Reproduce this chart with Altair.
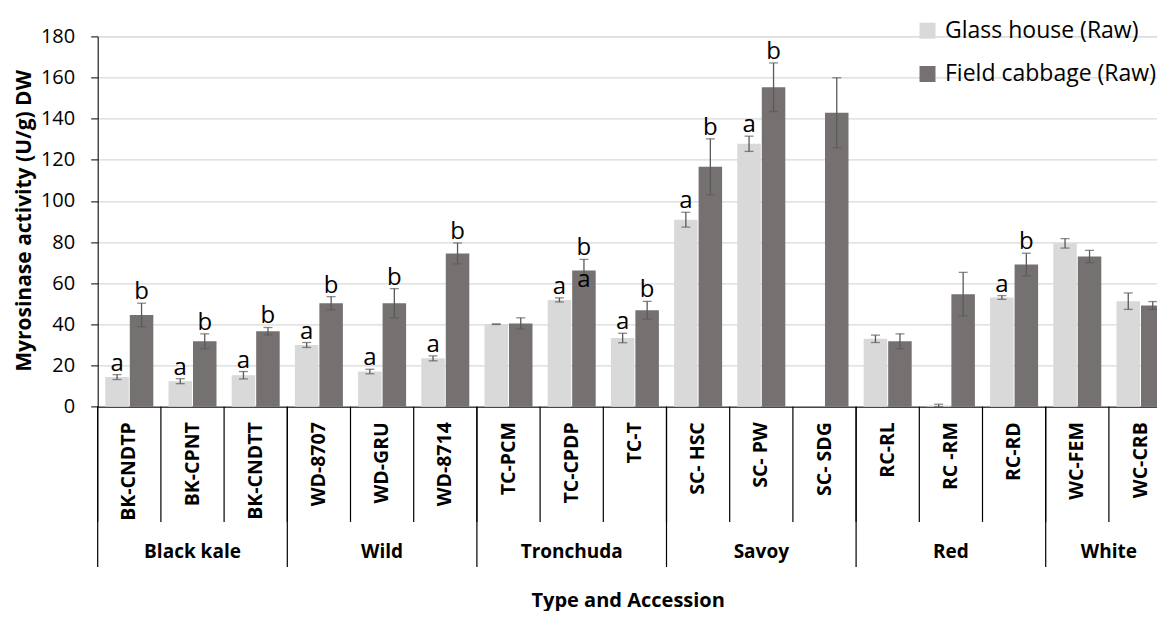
import altair as alt
import pandas as pd

# ---------------- data ----------------
accessions = ["BK-CNDTP", "BK-CPNT", "BK-CNDTT", "WD-8707", "WD-GRU", "WD-8714",
              "TC-PCM", "TC-CPDP", "TC-T", "SC- HSC", "SC- PW", "SC- SDG",
              "RC-RL", "RC -RM", "RC-RD", "WC-FEM", "WC-CRB"]
groups = ["Black kale"] * 3 + ["Wild"] * 3 + ["Tronchuda"] * 3 + ["Savoy"] * 3 + ["Red"] * 3 + ["White"] * 2
group_order = ["Black kale", "Wild", "Tronchuda", "Savoy", "Red", "White"]
series = ["Glass house (Raw)", "Field cabbage (Raw)"]

gh_mean = [14.4, 12.4, 15.3, 30.0, 17.1, 23.5, 40.1, 51.9, 33.4, 90.9, 127.8, None, 33.0, 0.6, 53.1, 79.4, 51.3]
gh_err = [1.2, 1.2, 1.8, 1.2, 1.1, 1.2, 0.15, 1.0, 2.3, 3.6, 3.7, None, 1.8, 0.6, 0.9, 2.3, 4.0]
fc_mean = [44.6, 31.8, 36.7, 50.3, 50.3, 74.5, 40.5, 66.2, 46.9, 116.6, 155.3, 142.9, 31.8, 54.7, 69.1, 73.0, 49.2]
fc_err = [5.7, 3.6, 1.8, 3.2, 7.1, 5.1, 2.7, 5.4, 4.3, 13.6, 11.8, 17.0, 3.6, 10.6, 5.5, 3.0, 1.9]
gh_letters = ["a", "a", "a", "a", "a", "a", "", "a", "a", "a", "a", "", "", "", "a", "", ""]
fc_letters = ["b", "b", "b", "b", "b", "b", "", "b", "b", "b", "b", "", "", "", "b", "", ""]
gh_letters_inner = [""] * 17
fc_letters_inner = ["", "", "", "", "", "", "", "a", "", "", "", "", "", "", "", "", ""]

y_ticks = [0, 20, 40, 60, 80, 100, 120, 140, 160, 180]

# ---------------- tables ----------------
rows = []
for s, means, errs, lets, inner in [
    (series[0], gh_mean, gh_err, gh_letters, gh_letters_inner),
    (series[1], fc_mean, fc_err, fc_letters, fc_letters_inner),
]:
    for a, g, m, e, l, li in zip(accessions, groups, means, errs, lets, inner):
        rows.append({
            "acc": a, "group": g, "series": s, "mean": m, "err": e,
            "lo": None if (m is None or e is None) else m - e,
            "hi": None if (m is None or e is None) else m + e,
            "letter": l, "inner": li,
        })
df = pd.DataFrame(rows)

div_rows = []
seen = set()
for a, g in zip(accessions, groups):
    div_rows.append({"acc": a, "start": g not in seen})
    seen.add(g)
df_div = pd.DataFrame(div_rows)

odd_rows, even_rows = [], []
for g in group_order:
    members = [a for a, gg in zip(accessions, groups) if gg == g]
    n = len(members)
    if n % 2 == 1:
        odd_rows.append({"group": g, "acc": members[n // 2]})
    else:
        even_rows.append({"group": g, "acc": members[n // 2]})
df_godd = pd.DataFrame(odd_rows)
df_geven = pd.DataFrame(even_rows)

# ---------------- styling ----------------
VIEW_W = 1059.3       # visible part of the plot (page is 1165 wide)
RANGE_W = 1074.4      # full band range (last category runs past the page edge)
PLOT_H = 370.3
FONT = "Open Sans"
LIGHT = "#d9d9d9"
DARK = "#767171"
ERR = "#5a5a5a"

y_scale = alt.Scale(domain=[0, 180], nice=False, zero=True)
x_scale = alt.Scale(paddingInner=0, paddingOuter=0, range=[0, RANGE_W])
xo = alt.XOffset("series:N", sort=series,
                 scale=alt.Scale(domain=series, paddingInner=0.04, paddingOuter=0.31))

x_axis = alt.Axis(
    title="Type and Accession", titleFont=FONT, titleFontSize=20, titleFontWeight="bold",
    titleColor="black", titleX=530, titleY=199.3, titleBaseline="alphabetic",
    labelAngle=-90, labelAlign="right", labelBaseline="middle", labelPadding=15,
    labelFont=FONT, labelFontSize=19.5, labelFontWeight="bold", labelColor="black",
    ticks=False, domain=True, domainColor="black", domainWidth=1, grid=False,
    labelLimit=300,
)
y_axis = alt.Axis(
    title="Myrosinase activity (U/g) DW", titleFont=FONT, titleFontSize=21,
    titleFontWeight="bold", titleColor="black", titleX=-67, titleY=184,
    titleBaseline="alphabetic", titleAngle=270,
    values=y_ticks, labelFont=FONT, labelFontSize=20, labelColor="black", labelPadding=16,
    tickSize=7, tickColor="black", domainColor="black", domainWidth=1,
    grid=True, gridColor="#d9d9d9", gridWidth=1.3,
)


def xenc(bp=None):
    if bp is None:
        return alt.X("acc:N", sort=accessions, scale=x_scale, axis=x_axis, title="Type and Accession")
    return alt.X("acc:N", sort=accessions, scale=x_scale, axis=x_axis, title="Type and Accession",
                 bandPosition=bp)


def yenc(field):
    return alt.Y(field, scale=y_scale, axis=y_axis, title="Myrosinase activity (U/g) DW")


base = alt.Chart(df)

bars = base.mark_bar().encode(
    x=xenc(),
    xOffset=xo,
    y=yenc("mean:Q"),
    color=alt.Color("series:N", sort=series,
                    scale=alt.Scale(domain=series, range=[LIGHT, DARK]),
                    legend=alt.Legend(title=None, orient="none", legendX=818.3, legendY=-17.2,
                                      symbolType="square", symbolSize=256, symbolStrokeWidth=0,
                                      labelFont=FONT, labelFontSize=23, labelColor="black",
                                      labelOffset=6, rowPadding=19.3, padding=0, labelLimit=400)),
)

err_rule = base.transform_filter("isValid(datum.err)").mark_rule(color=ERR, strokeWidth=1.3).encode(
    x=xenc(), xOffset=xo,
    y=yenc("lo:Q"), y2="hi:Q",
)

caps = base.transform_filter("isValid(datum.err)").transform_fold(
    ["lo", "hi"], as_=["end", "val"]
).mark_tick(color=ERR, size=9, thickness=1.3, orient="horizontal").encode(
    x=xenc(), xOffset=xo,
    y=yenc("val:Q"),
)

letters = base.transform_filter("datum.letter != ''").mark_text(
    font=FONT, fontSize=24, color="black", baseline="alphabetic", dy=-4
).encode(
    x=xenc(), xOffset=xo,
    y=yenc("hi:Q"),
    text="letter:N",
)

letters_inner = base.transform_filter("datum.inner != ''").mark_text(
    font=FONT, fontSize=24, color="black", baseline="alphabetic", dy=16
).encode(
    x=xenc(), xOffset=xo,
    y=yenc("mean:Q"),
    text="inner:N",
)

div_short = alt.Chart(df_div).mark_rule(color="black", strokeWidth=1.2).encode(
    x=xenc(0),
    y=alt.value(PLOT_H), y2=alt.value(PLOT_H + 115.3),
)
div_long = alt.Chart(df_div).transform_filter("datum.start").mark_rule(color="black", strokeWidth=1.2).encode(
    x=xenc(0),
    y=alt.value(PLOT_H), y2=alt.value(PLOT_H + 160.3),
)

glab_odd = alt.Chart(df_godd).mark_text(
    font=FONT, fontSize=19, fontWeight="bold", color="black", baseline="middle"
).encode(
    x=xenc(0.5),
    y=alt.value(515.6), text="group:N",
)
glab_even = alt.Chart(df_geven).mark_text(
    font=FONT, fontSize=19, fontWeight="bold", color="black", baseline="middle"
).encode(
    x=xenc(0),
    y=alt.value(515.6), text="group:N",
)

chart = alt.layer(
    bars, err_rule, caps, letters, letters_inner, div_short, div_long, glab_odd, glab_even
).properties(
    width=VIEW_W, height=PLOT_H,
    padding={"left": 89.7, "top": 28.4, "right": 0, "bottom": 204.3},
    autosize=alt.AutoSizeParams(type="none"),
    background="white",
).configure_view(stroke=None).configure(font=FONT)

chart.save("out.html", embed_options={"renderer": "svg", "actions": False})
